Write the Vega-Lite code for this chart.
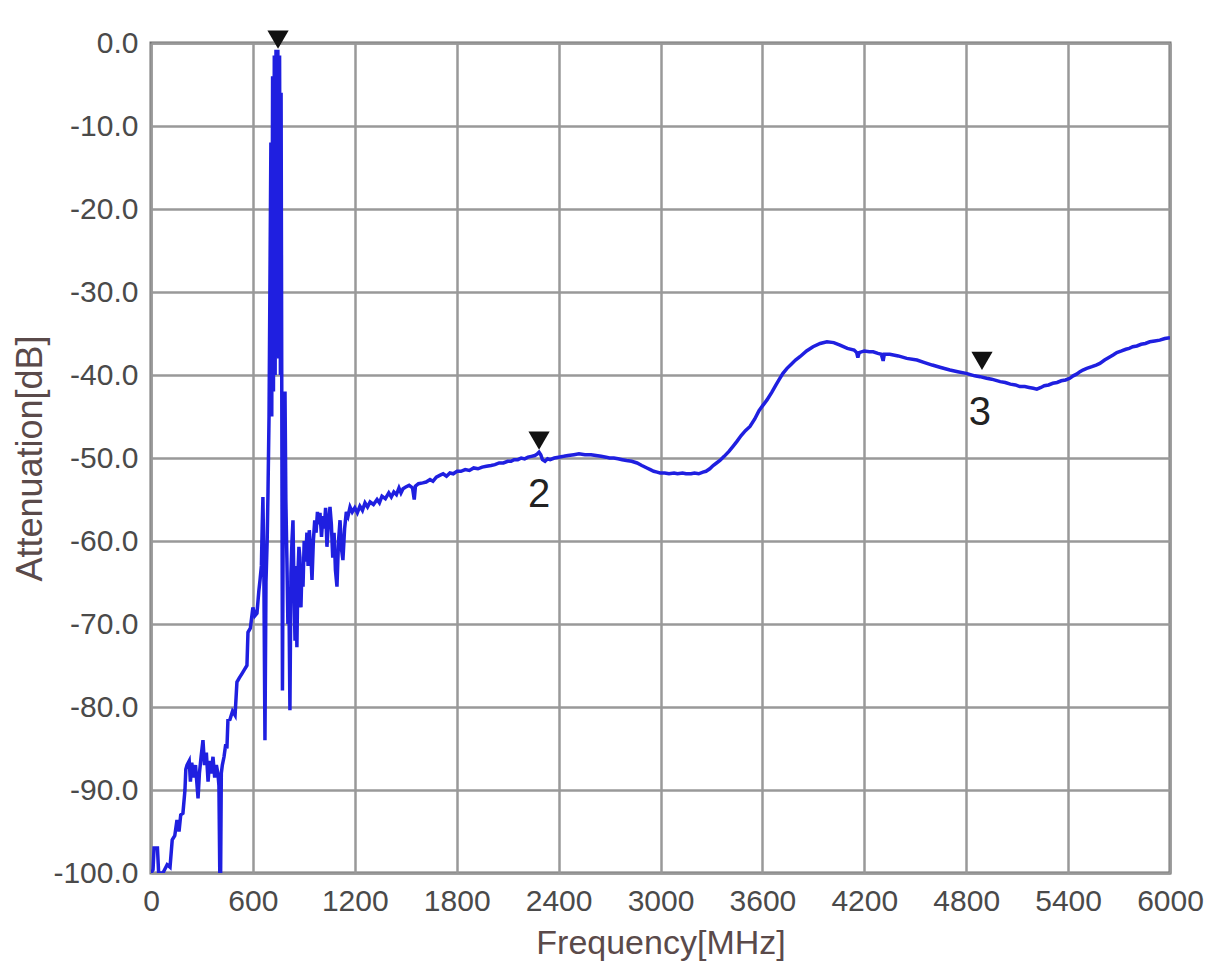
{
  "$schema": "https://vega.github.io/schema/vega-lite/v6.json",
  "width": 1019,
  "height": 830,
  "autosize": {"type": "none"},
  "padding": {"left": 151, "top": 43, "right": 35, "bottom": 91},
  "background": "white",
  "config": {
    "view": {"stroke": "#6e6e6e", "strokeWidth": 3},
    "font": "Liberation Sans"
  },
  "datasets": {
    "trace": [
      {"f":0,"a":-100},{"f":12,"a":-99.6},{"f":18,"a":-97},{"f":38,"a":-97},{"f":45,"a":-100},{"f":70,"a":-100},{"f":95,"a":-99},{"f":112,"a":-99.3},{"f":125,"a":-96},{"f":140,"a":-95.5},{"f":153,"a":-93.6},{"f":165,"a":-95},{"f":175,"a":-93},{"f":188,"a":-92.8},{"f":200,"a":-90},{"f":205,"a":-87.5},{"f":212,"a":-87},{"f":225,"a":-86.5},{"f":232,"a":-89},{"f":240,"a":-86.7},{"f":250,"a":-88.5},{"f":262,"a":-87},{"f":277,"a":-91},{"f":285,"a":-88},{"f":295,"a":-86},{"f":306,"a":-84},{"f":315,"a":-87},{"f":326,"a":-85.5},{"f":336,"a":-89},{"f":345,"a":-86.5},{"f":355,"a":-88},{"f":365,"a":-86},{"f":375,"a":-88.5},{"f":385,"a":-87},{"f":394,"a":-88},{"f":400,"a":-89.5},{"f":405,"a":-100},{"f":410,"a":-100},{"f":414,"a":-88},{"f":420,"a":-87},{"f":430,"a":-86},{"f":440,"a":-84.5},{"f":447,"a":-85},{"f":453,"a":-81.6},{"f":465,"a":-81.5},{"f":480,"a":-80.5},{"f":495,"a":-81},{"f":506,"a":-77},{"f":520,"a":-76.5},{"f":535,"a":-76},{"f":550,"a":-75.5},{"f":565,"a":-75},{"f":571,"a":-71},{"f":585,"a":-70.5},{"f":600,"a":-68},{"f":612,"a":-69},{"f":624,"a":-68.7},{"f":635,"a":-66},{"f":642,"a":-64.7},{"f":650,"a":-63},{"f":655,"a":-58},{"f":659,"a":-54.7},{"f":664,"a":-62},{"f":671,"a":-84},{"f":677,"a":-65},{"f":684,"a":-60},{"f":689,"a":-54},{"f":695,"a":-45},{"f":700,"a":-30},{"f":706,"a":-12},{"f":711,"a":-45},{"f":716,"a":-4},{"f":721,"a":-42},{"f":726,"a":-1.5},{"f":731,"a":-40},{"f":736,"a":-0.8},{"f":742,"a":-35},{"f":747,"a":-0.8},{"f":752,"a":-38},{"f":757,"a":-1.5},{"f":762,"a":-40},{"f":766,"a":-6},{"f":770,"a":-42},{"f":774,"a":-78},{"f":779,"a":-55},{"f":784,"a":-43},{"f":789,"a":-42},{"f":794,"a":-55},{"f":800,"a":-62},{"f":806,"a":-70},{"f":812,"a":-66},{"f":818,"a":-80.4},{"f":824,"a":-64},{"f":830,"a":-60},{"f":836,"a":-57.5},{"f":842,"a":-66},{"f":848,"a":-72},{"f":853,"a":-63},{"f":859,"a":-72.8},{"f":865,"a":-64},{"f":871,"a":-60.7},{"f":877,"a":-62},{"f":883,"a":-68},{"f":889,"a":-63},{"f":895,"a":-65.5},{"f":902,"a":-60},{"f":910,"a":-62.5},{"f":918,"a":-59},{"f":925,"a":-63},{"f":932,"a":-58.7},{"f":940,"a":-61},{"f":948,"a":-64.7},{"f":956,"a":-60},{"f":964,"a":-57.5},{"f":972,"a":-59},{"f":980,"a":-56.5},{"f":988,"a":-58},{"f":995,"a":-56.6},{"f":1004,"a":-59.5},{"f":1012,"a":-57},{"f":1020,"a":-58.5},{"f":1028,"a":-56},{"f":1036,"a":-60.7},{"f":1044,"a":-58},{"f":1054,"a":-55.9},{"f":1062,"a":-58},{"f":1070,"a":-62},{"f":1078,"a":-59},{"f":1086,"a":-63.5},{"f":1095,"a":-65.5},{"f":1104,"a":-60},{"f":1113,"a":-57.5},{"f":1122,"a":-61},{"f":1130,"a":-62.3},{"f":1140,"a":-58.5},{"f":1150,"a":-56.5},{"f":1160,"a":-57},{"f":1172,"a":-55.9},{"f":1185,"a":-56.5},{"f":1200,"a":-56},{"f":1215,"a":-56.6},{"f":1230,"a":-55.8},{"f":1245,"a":-56.3},{"f":1260,"a":-55.4},{"f":1275,"a":-55.9},{"f":1290,"a":-55.3},{"f":1310,"a":-55.6},{"f":1331,"a":-55},{"f":1345,"a":-55.4},{"f":1360,"a":-54.6},{"f":1380,"a":-54.9},{"f":1400,"a":-54.2},{"f":1415,"a":-54.7},{"f":1430,"a":-54.1},{"f":1445,"a":-54.4},{"f":1460,"a":-53.6},{"f":1472,"a":-54.2},{"f":1484,"a":-53.7},{"f":1500,"a":-53.5},{"f":1520,"a":-53.3},{"f":1540,"a":-53.6},{"f":1550,"a":-55},{"f":1557,"a":-53.4},{"f":1575,"a":-53.1},{"f":1600,"a":-53},{"f":1620,"a":-52.9},{"f":1643,"a":-52.6},{"f":1660,"a":-52.8},{"f":1680,"a":-52.3},{"f":1700,"a":-52.1},{"f":1720,"a":-51.9},{"f":1740,"a":-52.2},{"f":1760,"a":-51.8},{"f":1780,"a":-51.9},{"f":1802,"a":-51.6},{"f":1825,"a":-51.6},{"f":1850,"a":-51.4},{"f":1875,"a":-51.5},{"f":1900,"a":-51.2},{"f":1925,"a":-51.3},{"f":1950,"a":-51.1},{"f":1975,"a":-51},{"f":2002,"a":-50.9},{"f":2025,"a":-50.8},{"f":2050,"a":-50.6},{"f":2075,"a":-50.6},{"f":2100,"a":-50.4},{"f":2120,"a":-50.4},{"f":2138,"a":-50.2},{"f":2160,"a":-50.2},{"f":2180,"a":-50},{"f":2200,"a":-50.1},{"f":2220,"a":-49.9},{"f":2240,"a":-49.8},{"f":2260,"a":-49.7},{"f":2275,"a":-49.5},{"f":2285,"a":-49.3},{"f":2295,"a":-49.6},{"f":2305,"a":-50.2},{"f":2320,"a":-50.4},{"f":2335,"a":-50.1},{"f":2350,"a":-50.2},{"f":2375,"a":-50},{"f":2400,"a":-49.9},{"f":2430,"a":-49.8},{"f":2456,"a":-49.7},{"f":2490,"a":-49.6},{"f":2520,"a":-49.5},{"f":2555,"a":-49.6},{"f":2591,"a":-49.6},{"f":2620,"a":-49.7},{"f":2650,"a":-49.8},{"f":2680,"a":-49.9},{"f":2700,"a":-50},{"f":2725,"a":-50},{"f":2750,"a":-50.1},{"f":2775,"a":-50.2},{"f":2800,"a":-50.3},{"f":2830,"a":-50.4},{"f":2862,"a":-50.6},{"f":2890,"a":-50.9},{"f":2920,"a":-51.2},{"f":2940,"a":-51.4},{"f":2960,"a":-51.6},{"f":2980,"a":-51.7},{"f":2997,"a":-51.8},{"f":3025,"a":-51.8},{"f":3050,"a":-51.9},{"f":3080,"a":-51.8},{"f":3100,"a":-51.9},{"f":3130,"a":-51.8},{"f":3150,"a":-51.9},{"f":3180,"a":-51.9},{"f":3200,"a":-51.8},{"f":3225,"a":-51.9},{"f":3250,"a":-51.7},{"f":3268,"a":-51.6},{"f":3290,"a":-51.3},{"f":3310,"a":-50.9},{"f":3330,"a":-50.6},{"f":3350,"a":-50.3},{"f":3375,"a":-49.8},{"f":3403,"a":-49.2},{"f":3427,"a":-48.6},{"f":3450,"a":-48},{"f":3475,"a":-47.3},{"f":3500,"a":-46.7},{"f":3527,"a":-46.2},{"f":3555,"a":-45.3},{"f":3580,"a":-44.3},{"f":3605,"a":-43.6},{"f":3627,"a":-43},{"f":3655,"a":-42.1},{"f":3680,"a":-41.2},{"f":3700,"a":-40.5},{"f":3721,"a":-39.8},{"f":3745,"a":-39.2},{"f":3770,"a":-38.7},{"f":3795,"a":-38.2},{"f":3821,"a":-37.8},{"f":3860,"a":-37.1},{"f":3898,"a":-36.6},{"f":3940,"a":-36.2},{"f":3980,"a":-36},{"f":4020,"a":-36.1},{"f":4057,"a":-36.4},{"f":4100,"a":-36.8},{"f":4140,"a":-37},{"f":4155,"a":-37.3},{"f":4162,"a":-37.9},{"f":4170,"a":-37.3},{"f":4200,"a":-37.1},{"f":4230,"a":-37.2},{"f":4252,"a":-37.2},{"f":4280,"a":-37.4},{"f":4300,"a":-37.5},{"f":4311,"a":-38.3},{"f":4318,"a":-37.5},{"f":4350,"a":-37.5},{"f":4400,"a":-37.7},{"f":4450,"a":-38},{"f":4510,"a":-38.2},{"f":4555,"a":-38.5},{"f":4600,"a":-38.8},{"f":4650,"a":-39.1},{"f":4704,"a":-39.4},{"f":4750,"a":-39.6},{"f":4800,"a":-39.8},{"f":4850,"a":-40.1},{"f":4881,"a":-40.2},{"f":4920,"a":-40.4},{"f":4950,"a":-40.5},{"f":5000,"a":-40.8},{"f":5030,"a":-40.9},{"f":5060,"a":-41.1},{"f":5090,"a":-41.2},{"f":5116,"a":-41.4},{"f":5145,"a":-41.4},{"f":5170,"a":-41.5},{"f":5195,"a":-41.6},{"f":5216,"a":-41.7},{"f":5240,"a":-41.5},{"f":5260,"a":-41.3},{"f":5285,"a":-41.2},{"f":5310,"a":-41},{"f":5335,"a":-40.9},{"f":5360,"a":-40.7},{"f":5385,"a":-40.6},{"f":5410,"a":-40.4},{"f":5430,"a":-40.1},{"f":5450,"a":-39.9},{"f":5470,"a":-39.6},{"f":5487,"a":-39.4},{"f":5510,"a":-39.2},{"f":5540,"a":-39},{"f":5565,"a":-38.8},{"f":5587,"a":-38.6},{"f":5615,"a":-38.2},{"f":5640,"a":-37.9},{"f":5665,"a":-37.6},{"f":5687,"a":-37.3},{"f":5715,"a":-37.1},{"f":5740,"a":-36.9},{"f":5760,"a":-36.8},{"f":5781,"a":-36.6},{"f":5805,"a":-36.5},{"f":5830,"a":-36.3},{"f":5855,"a":-36.2},{"f":5881,"a":-36},{"f":5910,"a":-35.9},{"f":5940,"a":-35.8},{"f":5970,"a":-35.6},{"f":6000,"a":-35.5}
    ],
    "markers": [
      {"f": 748, "a": 0.4},
      {"f": 2285, "a": -47.9},
      {"f": 4893, "a": -38.3}
    ],
    "labels": [
      {"f": 2285, "a": -54.5, "t": "2"},
      {"f": 4880, "a": -44.6, "t": "3"}
    ]
  },
  "encoding": {
    "x": {
      "field": "f",
      "type": "quantitative",
      "scale": {"domain": [0, 6000], "nice": false, "zero": false},
      "axis": {
        "title": "Frequency[MHz]",
        "values": [0, 600, 1200, 1800, 2400, 3000, 3600, 4200, 4800, 5400, 6000],
        "format": "d",
        "labelFont": "Liberation Sans",
        "labelFontSize": 30,
        "labelColor": "#4a4a4a",
        "labelPadding": 13,
        "labelFlush": false,
        "labelOverlap": false,
        "tickSize": 0,
        "domain": false,
        "grid": true,
        "gridColor": "#999999",
        "gridWidth": 2.5,
        "titleFont": "Liberation Sans",
        "titleFontSize": 34,
        "titleFontWeight": "normal",
        "titleColor": "#5a4a4a",
        "titlePadding": 10
      }
    },
    "y": {
      "field": "a",
      "type": "quantitative",
      "scale": {"domain": [-100, 0], "nice": false, "zero": false},
      "axis": {
        "title": "Attenuation[dB]",
        "values": [-100, -90, -80, -70, -60, -50, -40, -30, -20, -10, 0],
        "labelExpr": "replace(format(datum.value, '.1f'), '\u2212', '-')",
        "labelFont": "Liberation Sans",
        "labelFontSize": 30,
        "labelColor": "#4a4a4a",
        "labelPadding": 13,
        "labelFlush": false,
        "labelOverlap": false,
        "tickSize": 0,
        "domain": false,
        "grid": true,
        "gridColor": "#999999",
        "gridWidth": 2.5,
        "titleFont": "Liberation Sans",
        "titleFontSize": 36,
        "titleFontWeight": "normal",
        "titleColor": "#5a4a4a",
        "titlePadding": 3
      }
    }
  },
  "layer": [
    {
      "data": {"name": "trace"},
      "mark": {"type": "line", "color": "#1f1fe0", "strokeWidth": 3.5, "clip": true}
    },
    {
      "data": {"name": "markers"},
      "mark": {"type": "point", "shape": "triangle-down", "filled": true, "color": "#111111", "size": 450, "opacity": 1}
    },
    {
      "data": {"name": "labels"},
      "mark": {"type": "text", "font": "Liberation Sans", "fontSize": 40, "color": "#222222", "baseline": "middle", "align": "center"},
      "encoding": {"text": {"field": "t"}}
    }
  ]
}
